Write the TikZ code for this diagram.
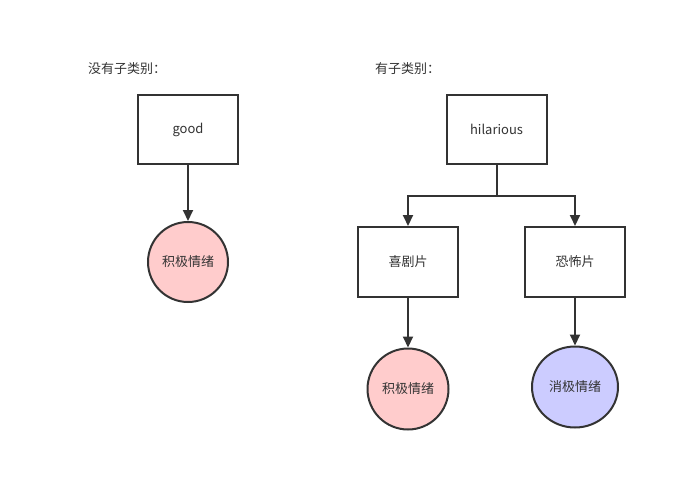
\documentclass[tikz,border=0pt]{standalone}
\usepackage{fontspec}
\setmainfont{Noto Sans CJK SC}
\usetikzlibrary{arrows.meta,shapes.geometric}
\definecolor{ln}{HTML}{333333}
\definecolor{pinkf}{HTML}{FFCCCC}
\definecolor{bluef}{HTML}{CCCCFF}
\tikzset{
  box/.style={draw=ln,line width=2pt,fill=white,minimum width=100pt,minimum height=68pt,inner sep=0pt,font=\fontsize{13}{15}\selectfont,text=ln},
  blob/.style={draw=ln,line width=2pt,ellipse,inner sep=0pt,font=\fontsize{13}{15}\selectfont,text=ln},
  conn/.style={draw=ln,line width=2pt,-{Triangle[length=11pt,width=10pt]}},
  plain/.style={draw=ln,line width=2pt},
  lbl/.style={anchor=west,inner sep=0pt,font=\fontsize{13}{15}\selectfont,text=ln}
}
\begin{document}
\begin{tikzpicture}[x=1pt,y=-1pt]
\useasboundingbox (0,0) rectangle (687,492);
\node[lbl] (t1) at (88,69) {没有子类别：};
\node[lbl] (t2) at (375,69) {有子类别：};
\node[box] (good) at (188,129.5) {good};
\node[blob,fill=pinkf,minimum width=80pt,minimum height=80pt] (pos1) at (188,262) {积极情绪};
\draw[conn] (good) -- (pos1);
\node[box] (hil) at (496.5,129.5) {hilarious};
\node[box,minimum height=70pt] (com) at (408,262) {喜剧片};
\node[box,minimum height=70pt] (hor) at (575,262) {恐怖片};
\coordinate (br) at (496.5,195.5);
\draw[plain] (hil.south) -- (br);
\draw[conn] (br) -| (com.north);
\draw[conn] (br) -| (hor.north);
\node[blob,fill=pinkf,minimum width=81pt,minimum height=81pt] (pos2) at (408,389) {积极情绪};
\node[blob,fill=bluef,minimum width=86pt,minimum height=81pt] (neg) at (575,387) {消极情绪};
\draw[conn] (com) -- (pos2);
\draw[conn] (hor) -- (neg);
\end{tikzpicture}
\end{document}
